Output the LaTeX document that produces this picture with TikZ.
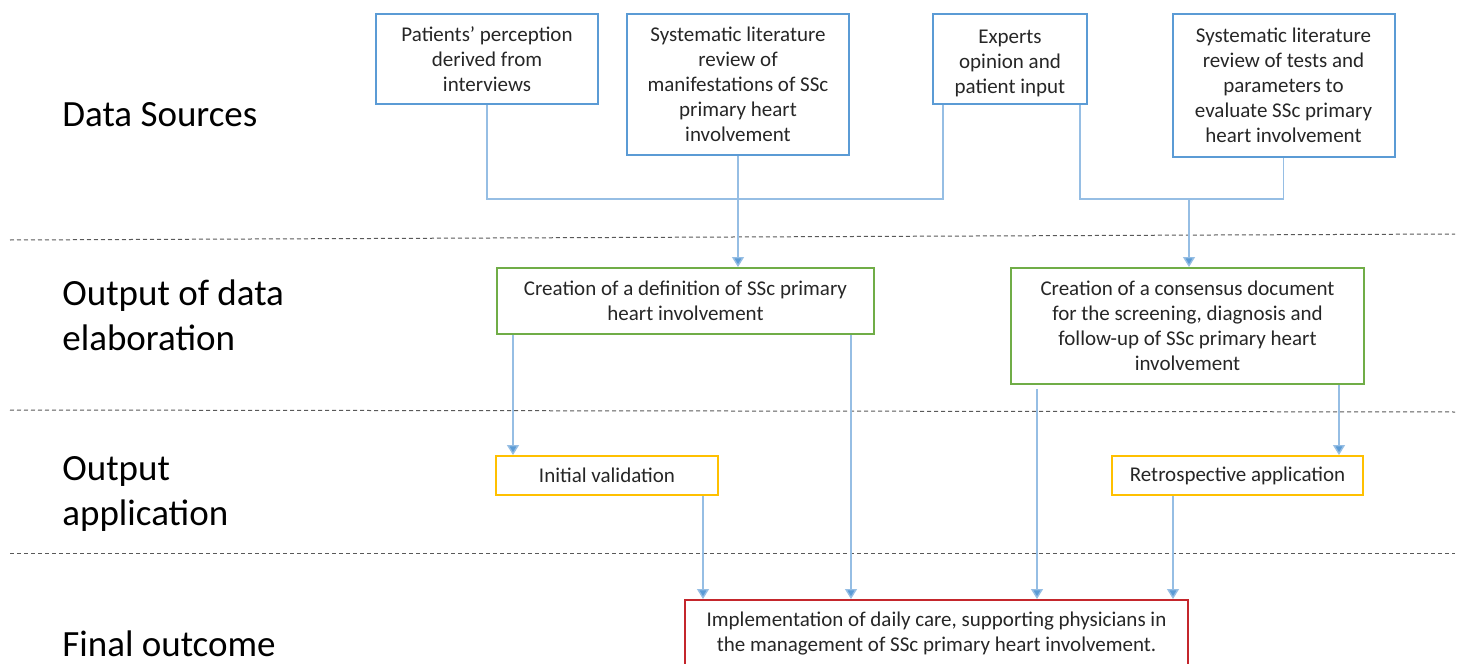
\documentclass[tikz,border=0pt]{standalone}
\usepackage{fontspec}
\setmainfont{Carlito}
\usepackage{tikz}
\usetikzlibrary{arrows.meta}
\definecolor{boxblue}{RGB}{91,155,213}
\definecolor{lineblue}{RGB}{150,190,228}
\definecolor{boxgreen}{RGB}{112,173,71}
\definecolor{boxyellow}{RGB}{255,192,0}
\definecolor{boxred}{RGB}{196,38,44}
\definecolor{txtgray}{RGB}{38,38,38}

\begin{document}
\begin{tikzpicture}[x=0.5pt, y=-0.5pt,
    every node/.style={font=\fontsize{10.5}{12.5}\selectfont, align=center, inner sep=2pt, text=txtgray},
    layer/.style={font=\fontsize{18.5}{22.5}\selectfont, align=left, anchor=west, inner sep=0pt, text=black},
    srcbox/.style={draw=boxblue, line width=1pt, minimum width=111pt},
    outbox/.style={draw=boxgreen, line width=1pt},
    appbox/.style={draw=boxyellow, line width=1pt, minimum height=19.5pt},
    finalbox/.style={draw=boxred, line width=1pt, minimum width=251.5pt, minimum height=34pt},
    link/.style={draw=lineblue, line width=0.7pt},
    arr/.style={link, -{Triangle[width=6pt, length=5pt, fill=boxblue]}},
    sep/.style={draw=gray!70!black, line width=0.5pt, dash pattern=on 2pt off 1.5pt}]
    \useasboundingbox (0,0) rectangle (1464,664);

    % layer names
    \node (lbl-sources) at (62,115)[layer] {Data Sources};
    \node (lbl-elab) at (62,315.5)[layer] {Output of data\\elaboration};
    \node (lbl-app) at (62,493.5)[layer] {Output\\application};
    \node (lbl-final) at (62,644)[layer] {Final outcome};

    % separators
    \draw[sep] (10,240) -- (1455,234);
    \draw[sep] (10,410) -- (1455,412);
    \draw[sep] (10,553) -- (1455,553);

    % data sources
    \node (patients) at (487,59)[srcbox, minimum height=45pt] {Patients' perception\\derived from\\interviews};
    \node (lit-review) at (738,84.5)[srcbox, minimum height=70.5pt] {Systematic literature\\review of\\manifestations of SSc\\primary heart\\involvement};
    \node (experts) at (1010,59)[srcbox, minimum width=77pt, minimum height=45pt] {\rule{0pt}{11pt}Experts\\opinion and\\patient input};
    \node (lit-tests) at (1283.5,85.5)[srcbox, minimum height=71.5pt] {Systematic literature\\review of tests and\\parameters to\\evaluate SSc primary\\heart involvement};

    % outputs
    \node (definition) at (685.5,301)[outbox, minimum width=188.5pt, minimum height=33pt] {Creation of a definition of SSc primary\\heart involvement};
    \node (consensus) at (1187.5,326)[outbox, minimum width=176.5pt, minimum height=58pt] {Creation of a consensus document\\for the screening, diagnosis and\\follow-up of SSc primary heart\\involvement};

    \node (validation) at (607,475.5)[appbox, minimum width=111pt] {Initial validation};
    \node (retrospective) at (1237.5,475.5)[appbox, minimum width=125.5pt] {Retrospective application};

    \node (daily-care) at (936.5,634)[finalbox] {Implementation of daily care, supporting physicians in\\the management of SSc primary heart involvement.};

    \coordinate (bus-left) at (716,199);
    \coordinate (bus-right) at (1189,199);

    \draw[link] (patients.south) |- (bus-left) -| ([xshift=5.5pt]experts.south west);
    \draw[arr] (lit-review.south) -- (lit-review.south |- definition.north);
    \draw[link] ([xshift=-4pt]experts.south east) |- (bus-right) -| (lit-tests.south);
    \draw[arr] (bus-right) -- (bus-right |- consensus.north);

    \draw[arr] ([xshift=8.5pt]definition.south west) -- ([xshift=8.5pt]definition.south west |- validation.north);
    \draw[arr] ([xshift=-12pt]definition.south east) -- ([xshift=-12pt]definition.south east |- daily-care.north);
    \draw[arr] ([xshift=13.5pt,yshift=-2pt]consensus.south west) -- ([xshift=13.5pt]consensus.south west |- daily-care.north);
    \draw[arr] ([xshift=-13pt]consensus.south east) -- ([xshift=-13pt]consensus.south east |- retrospective.north);
    \draw[arr] ([xshift=-8pt]validation.south east) -- ([xshift=-8pt]validation.south east |- daily-care.north);
    \draw[arr] ([xshift=31pt]retrospective.south west) -- ([xshift=31pt]retrospective.south west |- daily-care.north);
\end{tikzpicture}
\end{document}
